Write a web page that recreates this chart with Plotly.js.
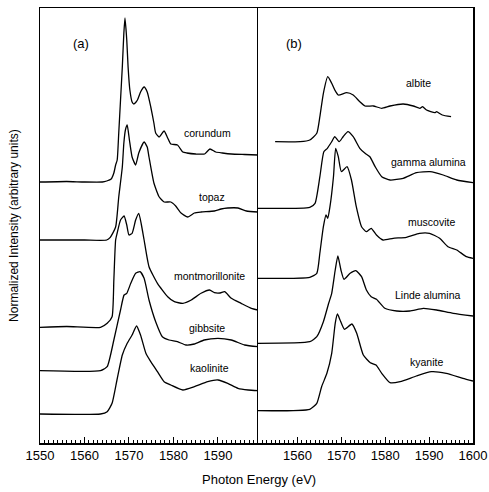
<!DOCTYPE html>
<html>
<head>
<meta charset="utf-8">
<script src="https://cdn.plot.ly/plotly-3.0.1.min.js"></script>
<style>html,body{margin:0;padding:0;background:#fff;}#chart{width:489px;height:492px;}</style>
</head>
<body>
<div id="chart"></div>
<script>
// ---- Panel (a) ----
const corundumE = [1550,1556,1560,1564,1565,1566,1566.6,1567.0,1567.35,1567.7,1568.1,1568.5,1568.85,1569.1,1569.5,1569.8,1570.2,1570.7,1571.1,1571.9,1572.6,1573.4,1574.1,1574.9,1575.6,1576,1576.8,1577.9,1578.7,1579.4,1580.9,1582.1,1583,1585,1587,1588.2,1589.5,1591,1593,1596,1599];
const corundumI = [261,261.5,261,261,262,264,270,278,283,310,343,376,410,425,403,376,353,341,339,343,351,356,351,336,320,310,306,312,305,299,298,291,290,289,289,294,291,290,289,288.5,288];

const topazE = [1550,1560,1565,1565.8,1567,1567.7,1568.5,1568.85,1569.2,1569.6,1570.1,1570.7,1571.5,1572.2,1573.4,1574.1,1574.5,1575.6,1576.8,1577.9,1579.4,1580.5,1581.7,1583.2,1584.7,1586.2,1589.2,1590.7,1592.2,1594.5,1596.4,1599];
const topazI = [203,203,203,205.7,216,246,276,300,313,318,303,286,278,290,301,296,286,260,246,241,241,237,230,226,230,231,232,234,235,235,232,231];

const montE = [1550,1556,1563.6,1565.1,1566.2,1566.6,1567.0,1567.35,1568.1,1568.9,1569.5,1570.0,1570.7,1571.5,1572.2,1572.8,1573.4,1574.5,1576.4,1578.7,1580.2,1582.1,1584,1586.2,1588.1,1589.2,1590.5,1591.5,1593,1595.2,1597.5,1599];
const montI = [115.7,116.5,115.7,119.7,126.3,163,203,210,223,227,218,208,209.7,223,229.7,218,203,176.3,159.7,146.3,141.3,139.7,143,149.7,153,150.3,150,151.3,144.7,139.7,134.7,133];

const gibbsE = [1550,1563.6,1565.1,1566.6,1568.1,1568.9,1569.5,1570.4,1571.5,1572.5,1573.4,1574.5,1576,1577.5,1579,1580.9,1582.8,1584.7,1586.9,1590,1593,1596,1599];
const gibbsI = [72.3,72.3,76.3,103,133,148,149.7,159.7,169.7,171.3,164.7,143,121.3,106.3,103,101.3,98,99,103,104.7,103,98,96.3];

const kaolE = [1550,1563.6,1565.1,1566.2,1567.3,1568.5,1569.6,1570.7,1571.7,1572.6,1573.8,1574.9,1576.4,1577.9,1579.4,1582.1,1584.7,1587.7,1590,1592.2,1594.5,1596.8,1599];
const kaolI = [29,29,31.3,39.7,63,88,99.7,108,117,108,89.7,81.3,71.3,61.3,58,53,56.3,61.3,63,59.7,54.7,53,52.3];

// ---- Panel (b) ----
const albiteE = [1554.9,1560.6,1562.8,1564.4,1565.1,1565.9,1566.9,1567.8,1568.5,1569.3,1571.2,1572.7,1574.2,1575.4,1577.3,1579.2,1581.1,1584.1,1586.4,1587.9,1588.5,1589.4,1591.3,1591.7,1593,1595];
const albiteI = [301.3,301.3,303,309.7,326.3,349.7,366.3,359.7,353,348,350.3,348,341.3,337,337,334.7,337,339,337,334.7,336.3,333,330.3,331.3,328,326.3];

const gammaE = [1551,1562.8,1564,1565.1,1566,1566.8,1567.8,1568.5,1569.5,1570.4,1571.5,1572.7,1574.2,1575.4,1576.5,1577.7,1579.2,1581.1,1584.1,1587.1,1590.2,1593.2,1596.3,1600];
const gammaI = [234.7,235.7,239.7,266.3,291.3,294.7,301.3,306.3,301.3,306.3,311.3,306.3,294.7,289.7,286.3,276.3,266.3,263,264.7,270.3,271.3,268,263,260.3];

const muscE = [1551,1562.8,1564.4,1565.1,1565.9,1566.5,1566.9,1567.4,1568.2,1568.7,1569.3,1570,1571.3,1572.3,1573.4,1574.6,1575.7,1576.8,1578,1579.5,1581.8,1584.8,1587.8,1590.1,1592.4,1594.3,1596.3,1598.5,1600];
const muscI = [164.7,165.7,169.7,190,216.3,228,224.7,236.3,266.3,294.7,286.3,271.3,276.3,263,236.3,216.3,211.3,214.7,208,203,204.7,205.7,209.7,209.7,204.7,196.3,193,186.3,184.7];

const lindeE = [1551,1562.8,1564.4,1565.9,1567.1,1567.8,1568.6,1569.2,1569.9,1570.6,1572,1573.3,1574.6,1575.7,1576.8,1578,1579.9,1582.6,1585.6,1588.7,1591.7,1595.5,1600];
const lindeI = [99.7,101.3,106.3,121.3,139.7,149.7,173,187,173,163.7,169.7,172.3,166.3,153,146.3,143.7,134.7,132,132,134.7,133,129.7,127];

const kyanE = [1551,1562.8,1564.4,1565.5,1566.7,1567.8,1568.6,1569.1,1569.7,1570.7,1572.4,1573.5,1575,1576.6,1577.9,1579.2,1581.1,1583.4,1587.1,1590.5,1593.9,1597.7,1600];
const kyanI = [32.3,33.7,39.7,56.3,69.7,89.7,119.7,129,123,113.7,119,109.7,88,80.3,78,69.7,60.3,61.3,67,71.3,69.7,64.7,62];

const ticksLeft = [1550,1560,1570,1580,1590];
const ticksRight = [1560,1570,1580,1590,1600];

const line = {color:'#000', width:1.3, shape:'spline', smoothing:0.5};
function tr(x, y, xa, ya){ return {x:x, y:y, xaxis:xa, yaxis:ya, type:'scatter', mode:'lines', line:line, hoverinfo:'skip', showlegend:false}; }

const data = [
  tr(corundumE, corundumI, 'x', 'y'),
  tr(topazE, topazI, 'x', 'y'),
  tr(montE, montI, 'x', 'y'),
  tr(gibbsE, gibbsI, 'x', 'y'),
  tr(kaolE, kaolI, 'x', 'y'),
  tr(albiteE, albiteI, 'x2', 'y2'),
  tr(gammaE, gammaI, 'x2', 'y2'),
  tr(muscE, muscI, 'x2', 'y2'),
  tr(lindeE, lindeI, 'x2', 'y2'),
  tr(kyanE, kyanI, 'x2', 'y2')
];

const F = 'Arial, "Liberation Sans", sans-serif';
const xbase = {
  showline:true, linecolor:'#000', linewidth:1.5, mirror:true,
  ticks:'inside', ticklen:6, tickwidth:1, tickcolor:'#000',
  showgrid:false, zeroline:false, tickmode:'array',
  tickfont:{family:F, size:13, color:'#000'},
  minor:{ticks:'inside', ticklen:3, tickwidth:1, tickcolor:'#000', dtick:1, showgrid:false}
};
const ybase = {
  showline:true, linecolor:'#000', linewidth:1.5,
  ticks:'', showticklabels:false, showgrid:false, zeroline:false,
  range:[0,435]
};

const W = 433, leftW = 218;
const lab = (xr, yr, x, y, t, s) => ({xref:xr, yref:yr, x:x, y:y, text:t, showarrow:false, font:{family:F, size:s, color:'#000'}});
const layout = {
  width:489, height:492,
  margin:{l:40, r:16, t:8, b:49},
  paper_bgcolor:'#fff', plot_bgcolor:'#fff',
  showlegend:false,
  xaxis:Object.assign({}, xbase, {domain:[0, leftW/W], range:[1550,1599], tickvals:ticksLeft, anchor:'y'}),
  xaxis2:Object.assign({}, xbase, {domain:[leftW/W, 1], range:[1551,1600], tickvals:ticksRight, anchor:'y2'}),
  yaxis:Object.assign({}, ybase, {anchor:'x', mirror:false}),
  yaxis2:Object.assign({}, ybase, {anchor:'x2', matches:'y', mirror:true}),
  annotations:[
    {xref:'paper', yref:'paper', x:-26/433, y:0.499, textangle:-90, xanchor:'center', yanchor:'middle', showarrow:false, text:'Normalized Intensity (arbitrary units)', font:{family:F, size:12, color:'#000'}},
    {xref:'paper', yref:'paper', x:0.505, y:-0.063, yanchor:'top', xanchor:'center', showarrow:false, text:'Photon Energy (eV)', font:{family:F, size:13, color:'#000'}},
    lab('x','y',1559.2,400,'(a)',13),
    lab('x','y',1587.6,310,'corundum',10.5),
    lab('x','y',1588.6,246,'topaz',10.5),
    lab('x','y',1588.2,167,'montmorillonite',10.5),
    lab('x','y',1587.5,115,'gibbsite',10.5),
    lab('x','y',1588.0,75,'kaolinite',10.5),
    lab('x2','y2',1559.2,400,'(b)',13),
    lab('x2','y2',1587.5,360,'albite',10.5),
    lab('x2','y2',1589.8,281,'gamma alumina',10.5),
    lab('x2','y2',1590.5,221,'muscovite',10.5),
    lab('x2','y2',1589.8,148,'Linde alumina',10.5),
    lab('x2','y2',1589.4,81,'kyanite',10.5)
  ]
};

Plotly.newPlot('chart', data, layout, {staticPlot:true, displayModeBar:false});
</script>
</body>
</html>
